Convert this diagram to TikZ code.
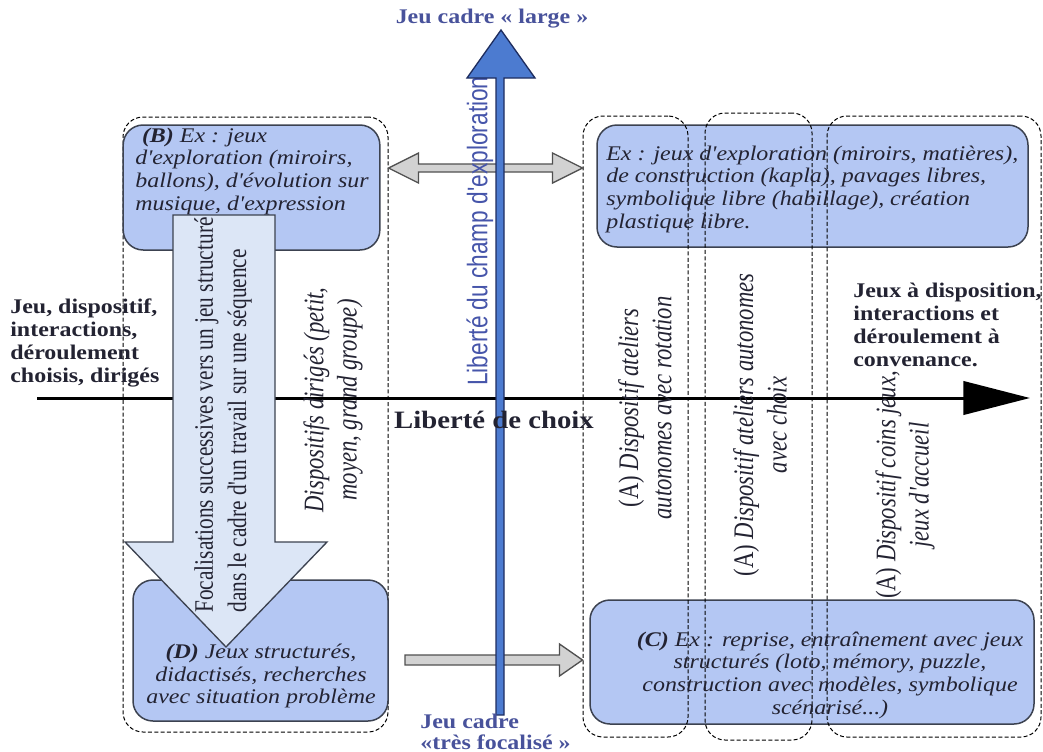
\documentclass[tikz,border=0pt]{standalone}
\usepackage{fontspec}
\setmainfont{Liberation Serif}
\newfontfamily\widefont[FakeStretch=1.15]{Liberation Serif}
\newfontfamily\narrowfont[FakeStretch=0.8]{Liberation Serif}
\newfontfamily\narrowsans[FakeStretch=0.8]{Liberation Sans}
\usetikzlibrary{arrows.meta,calc}

\definecolor{boxfill}{RGB}{180,199,243}
\definecolor{boxline}{RGB}{60,66,80}
\definecolor{focusfill}{RGB}{220,230,246}
\definecolor{axisblue}{RGB}{76,123,208}
\definecolor{navyline}{RGB}{30,45,95}
\definecolor{labelblue}{RGB}{72,82,155}
\definecolor{champblue}{RGB}{70,85,170}
\definecolor{grayfill}{RGB}{210,210,210}
\definecolor{grayline}{RGB}{80,80,80}
\definecolor{ink}{RGB}{35,35,50}

\begin{document}
\begin{tikzpicture}[x=0.6pt, y=-0.6pt,
    exbox/.style={draw=boxline, fill=boxfill, line width=0.9pt, rounded corners=12pt, inner sep=0pt},
    zone/.style={draw=black, line width=0.6pt, dash pattern=on 2.4pt off 1.4pt, rounded corners=12pt, inner sep=0pt},
    fatgray/.style={draw=grayline, fill=grayfill, line width=0.8pt},
    boxtext/.style={font=\widefont\itshape\fontsize{12.5}{13.6}\selectfont, text=ink, inner sep=0pt, align=left},
    sidetext/.style={font=\widefont\bfseries\fontsize{12.5}{13.8}\selectfont, text=ink, inner sep=0pt, align=left},
    vtext/.style={rotate=90, font=\narrowfont\itshape\fontsize{17}{20}\selectfont, text=ink, inner sep=0pt, align=center},
    caption/.style={font=\widefont\bfseries\fontsize{12.5}{12.5}\selectfont, text=labelblue, inner sep=0pt}]

    \useasboundingbox (0,0) rectangle (1043,752);

    %========================
    % Left zone: directed play
    %========================
    \node[zone, minimum width=159pt, minimum height=369pt] (zoneL) at (255.5,424.5) {};

    % Boxes (B) and (D)
    \node[exbox, minimum width=154pt, minimum height=75pt] (boxB) at (251.5,187.5) {};
    \node[exbox, minimum width=153pt, minimum height=84.6pt] (boxD) at (260.5,650.5) {};

    %========================
    % Right zones: autonomous play
    %========================
    \node[exbox, minimum width=258.6pt, minimum height=73.2pt] (boxTR) at (812.5,186) {};
    \node[exbox, minimum width=266.4pt, minimum height=74.4pt] (boxC) at (812,662) {};

    \node[zone, minimum width=63pt, minimum height=372.6pt] (zoneA1) at (635.5,426.5) {};
    \node[zone, minimum width=64.2pt, minimum height=376.2pt] (zoneA2) at (758.5,426.5) {};
    \node[zone, minimum width=128.4pt, minimum height=372.6pt] (zoneA3) at (934,426.5) {};

    %========================
    % Gray arrows between zones
    %========================
    \coordinate (dblL) at (zoneL.east |- 0,168);
    \coordinate (dblR) at (zoneA1.west |- 0,168);
    \draw[fatgray] (dblL) -- ++(30,-15) -- ++(0,11) -- ($(dblR)+(-30,-4)$) -- ++(0,-11)
        -- (dblR) -- ++(-30,15) -- ++(0,-11) -- ($(dblL)+(30,4)$) -- ++(0,11) -- cycle;

    \coordinate (focR) at (zoneA1.west |- 0,660);
    \draw[fatgray] (405,655) -- ($(focR)+(-23,-5)$) -- ++(0,-11) -- (focR)
        -- ++(-23,16) -- ++(0,-11) -- (405,665) -- cycle;

    %========================
    % Horizontal axis: choice
    %========================
    \coordinate (axisL) at (37,398);
    \coordinate (axisR) at (1030,398);
    \draw[line width=1.8pt, -{Triangle[length=40pt,width=20pt]}] (axisL) -- (axisR);

    % Focusing arrow
    \draw[draw=boxline, fill=focusfill, line width=0.8pt]
        (173,215) -- (275,215) -- (275,542) -- (327,542) -- (226,647) -- (125,542) -- (173,542) -- cycle;
    \node[rotate=90, font=\narrowfont\fontsize{16}{20}\selectfont, text=ink, inner sep=0pt, align=left]
        (focaltxt) at (223,415) {Focalisations successives vers un jeu structuré\\dans le cadre d'un travail sur une séquence};

    %========================
    % Vertical axis: exploration
    %========================
    \node[rotate=90, font=\narrowsans\fontsize{17}{17}\selectfont, text=champblue, inner sep=0pt]
        (champ) at (480,231) {Liberté du champ d'exploration};
    \draw[draw=navyline, fill=axisblue, line width=0.8pt]
        (496,715) -- (496,78) -- (467,78) -- (501,30) -- (535,78) -- (504,78) -- (504,715) -- cycle;

    \node[caption] (large) at (492,19) {Jeu cadre « large »};
    \node[caption, align=left, anchor=west] (focal) at (420,732) {Jeu cadre\\«très focalisé »};

    %========================
    % Texts
    %========================
    \node[boxtext, anchor=west] (txtB) at (135,171)
        {\hspace*{4pt}\textbf{(B)} Ex : jeux\\d'exploration (miroirs,\\ballons), d'évolution sur\\musique, d'expression};
    \node[boxtext, align=center] (txtD) at (261,676)
        {\textbf{(D)} Jeux structurés,\\didactisés, recherches\\avec situation problème};
    \node[boxtext, anchor=west] (txtTR) at (606,189)
        {Ex : jeux d'exploration (miroirs, matières),\\de construction (kapla), pavages libres,\\symbolique libre (habillage), création\\plastique libre.};
    \node[boxtext, align=center] (txtC) at (830,675)
        {\textbf{(C)} Ex : reprise, entraînement avec jeux\\structurés (loto, mémory, puzzle,\\construction avec modèles, symbolique\\scénarisé...)};

    \node[sidetext, anchor=west] (leftlbl) at (10,343) {Jeu, dispositif,\\interactions,\\déroulement\\choisis, dirigés};
    \node[sidetext, anchor=west] (rightlbl) at (853,325) {Jeux à disposition,\\interactions et\\déroulement à\\convenance.};
    \node[font=\widefont\bfseries\fontsize{15}{15}\selectfont, text=ink, inner sep=0pt] (choix) at (494,420) {Liberté de choix};

    % Rotated labels
    \node[vtext] (dirig) at (333,400) {Dispositifs dirigés (petit,\\moyen, grand groupe)};
    \node[vtext] (rota) at (645,408) {{\upshape (A)} Dispositif ateliers\\autonomes avec rotation};
    \node[vtext] (choixA) at (760,425) {{\upshape (A)} Dispositif ateliers autonomes\\avec choix};
    \node[vtext] (coins) at (905,485) {{\upshape (A)} Dispositif coins jeux,\\jeux d'accueil};

\end{tikzpicture}
\end{document}
